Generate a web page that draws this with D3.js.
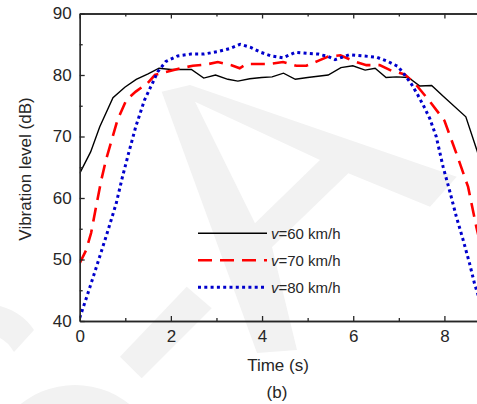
<!DOCTYPE html>
<html>
<head>
<meta charset="utf-8">
<script src="https://cdn.jsdelivr.net/npm/d3@7"></script>
<style>
  body { margin: 0; background: #fff; }
  text { font-family: "Liberation Sans", Arial, sans-serif; fill: #262626; }
</style>
</head>
<body>
<svg id="chart" width="477" height="404"></svg>
<script>
// data
const t60 = [0, 0.24, 0.44, 0.73, 0.99, 1.24, 1.5, 1.74, 2.0, 2.45, 2.72, 2.98, 3.25, 3.47, 3.73, 3.99, 4.22, 4.47, 4.73, 5.0, 5.45, 5.73, 5.99, 6.26, 6.48, 6.72, 6.95, 7.21, 7.46, 7.72, 7.98, 8.47, 8.72, 9.0];
const v60 = [64.0, 67.5, 71.6, 76.3, 78.0, 79.3, 80.2, 81.1, 80.9, 80.9, 79.5, 80.0, 79.3, 79.0, 79.4, 79.6, 79.7, 80.3, 79.3, 79.6, 80.0, 81.2, 81.5, 80.8, 81.1, 79.6, 79.7, 79.6, 78.2, 78.3, 76.5, 73.2, 67.6, 60.0];

const t70 = [0, 0.14, 0.25, 0.36, 0.47, 0.58, 0.83, 1.02, 1.23, 1.49, 1.65, 1.89, 2.22, 2.48, 2.77, 3.03, 3.33, 3.51, 3.66, 4.17, 4.46, 4.75, 4.97, 5.23, 5.45, 5.72, 6.03, 6.29, 6.58, 6.84, 7.13, 7.38, 7.68, 8.0, 8.26, 8.52, 8.7, 9.0];
const v70 = [49.4, 51.5, 54.3, 58.6, 62.8, 66.3, 72.7, 75.9, 77.3, 78.7, 80.0, 80.5, 81.1, 81.5, 81.7, 82.1, 81.6, 81.1, 81.8, 81.8, 82.1, 81.5, 81.5, 82.3, 83.0, 83.2, 82.2, 81.6, 81.6, 80.7, 80.1, 78.4, 75.7, 72.6, 67.3, 61.8, 55.3, 46.0];

const t80 = [0, 0.18, 0.38, 0.59, 0.8, 0.94, 1.07, 1.23, 1.42, 1.56, 1.71, 1.89, 2.15, 2.44, 2.72, 3.03, 3.29, 3.52, 3.75, 3.97, 4.2, 4.46, 4.74, 5.02, 5.23, 5.45, 5.6, 5.92, 6.21, 6.51, 6.76, 6.98, 7.13, 7.27, 7.42, 7.57, 7.68, 7.82, 7.97, 8.11, 8.26, 8.41, 8.55, 8.66, 9.0];
const v80 = [40.5, 44.5, 49.1, 54.0, 59.1, 63.5, 67.2, 71.6, 75.9, 78.1, 80.5, 82.2, 83.1, 83.4, 83.4, 83.8, 84.3, 85.0, 84.5, 83.7, 83.1, 82.8, 83.7, 83.5, 83.4, 83.0, 82.5, 83.3, 83.1, 82.9, 82.2, 81.4, 80.0, 78.6, 76.7, 74.6, 72.9, 70.0, 65.1, 61.3, 57.0, 53.2, 49.4, 46.1, 38.0];

const seriesNames = ["60", "70", "80"];
const xTicks = [0, 2, 4, 6, 8];
const xMinor = [1, 3, 5, 7, 9];
const yTicks = [40, 50, 60, 70, 80, 90];
const yMinor = [45, 55, 65, 75, 85];

const svg = d3.select("#chart");
const plotLeft = 79.7, plotRight = 490, plotTop = 13.5, plotBottom = 321;

const x = d3.scaleLinear().domain([0, 9]).range([plotLeft, plotRight]);
const y = d3.scaleLinear().domain([40, 90]).range([plotBottom, plotTop]);

// faint watermark behind the plot
const wm = svg.append("g").attr("fill", "#f2f2f2");
wm.append("path")
    .attr("fill-rule", "evenodd")
    .attr("d", "M161.7,91.7 L190,85 L456.7,176.7 L430,206.7 L348.3,173.3 L272,247 L297,350 L257,353 Z M195,101.7 L320,160 L255,223.3 Z");
wm.append("path").attr("d", "M186.7,286.7 L211.7,308.3 L141.7,378.3 L120,356.7 Z");
wm.append("path").attr("d", "M0,306 Q22,312 34,330 L14,352 Q8,342 0,338 Z");
wm.append("circle").attr("cx", 75).attr("cy", 472).attr("r", 87);

svg.append("clipPath").attr("id", "plotClip")
    .append("rect").attr("x", plotLeft).attr("y", plotTop - 2)
    .attr("width", plotRight - plotLeft).attr("height", plotBottom - plotTop + 2);

const line = d3.line().x(d => x(d[0])).y(d => y(d[1]));

const series = [
    { t: t60, v: v60, color: "#000000", width: 1.4, dash: null },
    { t: t70, v: v70, color: "#ff0000", width: 2.6, dash: "14,8" },
    { t: t80, v: v80, color: "#0000cc", width: 3, dash: "3,3.3" }
];

const plot = svg.append("g").attr("clip-path", "url(#plotClip)");
for (const s of series) {
    plot.append("path")
        .datum(d3.zip(s.t, s.v))
        .attr("fill", "none")
        .attr("stroke", s.color)
        .attr("stroke-width", s.width)
        .attr("stroke-dasharray", s.dash)
        .attr("d", line);
}

// axes, ticks point inward
function styleAxis(g) {
    g.selectAll("path, line").attr("stroke", "#262626").attr("stroke-width", 1.3);
    g.selectAll("text").attr("fill", "#262626").style("font-size", "17px")
        .style("font-family", "'Liberation Sans', Arial, sans-serif");
}

svg.append("g").attr("transform", `translate(0,${plotBottom})`)
    .call(d3.axisBottom(x).tickValues(xTicks).tickSize(-5).tickSizeOuter(0).tickPadding(9).tickFormat(d3.format("d")))
    .call(styleAxis);
svg.append("g").attr("transform", `translate(0,${plotBottom})`)
    .call(d3.axisBottom(x).tickValues(xMinor).tickSize(-3).tickSizeOuter(0).tickFormat(""))
    .call(styleAxis);
svg.append("g").attr("transform", `translate(0,${plotTop})`)
    .call(d3.axisTop(x).tickValues(xTicks).tickSize(-5).tickSizeOuter(0).tickFormat(""))
    .call(styleAxis);
svg.append("g").attr("transform", `translate(0,${plotTop})`)
    .call(d3.axisTop(x).tickValues(xMinor).tickSize(-3).tickSizeOuter(0).tickFormat(""))
    .call(styleAxis);
svg.append("g").attr("transform", `translate(${plotLeft},0)`)
    .call(d3.axisLeft(y).tickValues(yTicks).tickSize(-5).tickSizeOuter(0).tickPadding(8).tickFormat(d3.format("d")))
    .call(styleAxis);
svg.append("g").attr("transform", `translate(${plotLeft},0)`)
    .call(d3.axisLeft(y).tickValues(yMinor).tickSize(-3).tickSizeOuter(0).tickFormat(""))
    .call(styleAxis);

// axis titles
svg.append("text")
    .attr("x", 278).attr("y", 371)
    .attr("text-anchor", "middle")
    .style("font-size", "17px")
    .text("Time (s)");
svg.append("text")
    .attr("transform", "translate(31,169) rotate(-90)")
    .attr("text-anchor", "middle")
    .style("font-size", "17px")
    .text("Vibration level (dB)");
svg.append("text")
    .attr("x", 277).attr("y", 398)
    .attr("text-anchor", "middle")
    .style("font-size", "17px")
    .text("(b)");

// legend
const legY = [233.3, 260.3, 287.3];
const legend = svg.append("g");
series.forEach((s, i) => {
    legend.append("line")
        .attr("x1", 198).attr("x2", 267)
        .attr("y1", legY[i]).attr("y2", legY[i])
        .attr("stroke", s.color)
        .attr("stroke-width", s.width)
        .attr("stroke-dasharray", s.dash);
    const txt = legend.append("text")
        .attr("x", 271).attr("y", legY[i] + 5.5)
        .style("font-size", "15px")
        .attr("fill", "#000");
    txt.append("tspan").style("font-style", "italic").text("v");
    txt.append("tspan").text("=" + seriesNames[i] + " km/h");
});
</script>
</body>
</html>
